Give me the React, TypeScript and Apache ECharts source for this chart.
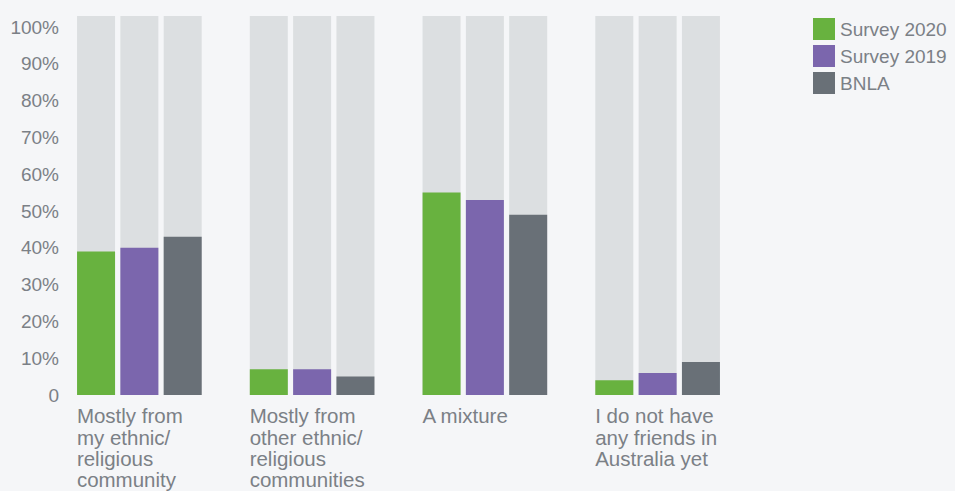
import React, { useEffect, useRef } from "react";
import * as echarts from "echarts";

const categories = [
  "Mostly from\nmy ethnic/\nreligious\ncommunity",
  "Mostly from\nother ethnic/\nreligious\ncommunities",
  "A mixture",
  "I do not have\nany friends in\nAustralia yet",
];
const seriesNames = ["Survey 2020", "Survey 2019", "BNLA"];
const survey2020 = [39, 7, 55, 4];
const survey2019 = [40, 7, 53, 6];
const bnla = [43, 5, 49, 9];
const yTicks = [0, 10, 20, 30, 40, 50, 60, 70, 80, 90, 100];

const colors = ["#68b23f", "#7b66ad", "#697077"];
const textColor = "#7b8086";
const font = "'Liberation Sans', Arial, sans-serif";

export default function App() {
  const ref = useRef<HTMLDivElement>(null);
  useEffect(() => {
    if (!ref.current) return;
    const chart = echarts.init(ref.current, undefined, { renderer: "svg" });
    const values = [survey2020, survey2019, bnla];
    chart.setOption({
      animation: false,
      backgroundColor: "#f5f6f8",
      textStyle: { fontFamily: font },
      legend: {
        orient: "vertical",
        left: 808,
        top: 13,
        itemWidth: 22,
        itemHeight: 22,
        itemGap: 5,
        icon: "rect",
        data: seriesNames,
        textStyle: { fontSize: 19, color: textColor, fontFamily: font },
      },
      grid: { left: 53, right: 211, top: 16, bottom: 96, containLabel: false },
      xAxis: {
        type: "category",
        data: categories,
        axisLine: { show: false },
        axisTick: { show: false },
        axisLabel: {
          margin: 10,
          interval: 0,
          formatter: (v: string) =>
            v
              .split("\n")
              .map((l) => `{a|${l}}`)
              .join("\n"),
          rich: {
            a: {
              width: 125,
              align: "left",
              fontSize: 20.5,
              lineHeight: 21.4,
              color: textColor,
              fontFamily: font,
            },
          },
          verticalAlign: "top",
        },
      },
      yAxis: {
        type: "value",
        min: 0,
        max: 103,
        interval: 10,
        axisLine: { show: false },
        axisTick: { show: false },
        splitLine: { show: false },
        axisLabel: {
          showMaxLabel: false,
          margin: -6,
          fontSize: 19,
          color: textColor,
          fontFamily: font,
          formatter: (v: number) =>
            yTicks.includes(v) ? (v === 0 ? "0" : `${v}%`) : "",
        },
      },
      series: seriesNames.map((name, i) => ({
        name,
        type: "bar",
        data: values[i],
        barWidth: 38,
        barGap: "14%",
        itemStyle: { color: colors[i] },
        showBackground: true,
        backgroundStyle: { color: "#dcdfe1" },
      })),
    });
    return () => chart.dispose();
  }, []);
  return (
    <div
      ref={ref}
      style={{ position: "fixed", left: 0, top: 0, width: 955, height: 491 }}
    />
  );
}
